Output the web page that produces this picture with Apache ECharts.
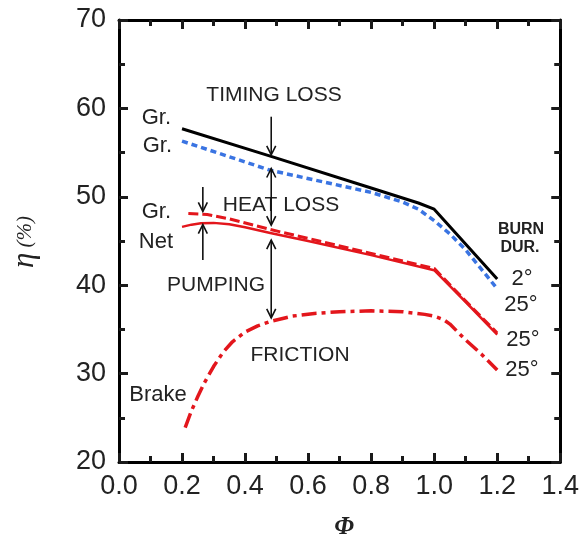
<!DOCTYPE html>
<html><head><meta charset="utf-8">
<script src="https://cdn.jsdelivr.net/npm/echarts/dist/echarts.min.js"></script>
<style>html,body{margin:0;padding:0;background:#fff}#c{width:582px;height:542px}</style>
</head><body><div id="c"></div>
<script>
// ---- data ----
const xTicks = [0.0, 0.2, 0.4, 0.6, 0.8, 1.0, 1.2, 1.4];
const yTicks = [20, 30, 40, 50, 60, 70];

// Gross, burn duration 2 deg (black solid)
const phiGr2 = [0.20, 0.48, 0.80, 0.95, 1.00, 1.20];
const etaGr2 = [57.7, 54.6, 51.0, 49.3, 48.6, 40.7];

// Gross, burn duration 25 deg (blue dashed)
const phiGr25 = [0.20, 0.48, 0.80, 0.90, 0.95, 1.00, 1.05, 1.10, 1.20];
const etaGr25 = [56.3, 53.0, 50.5, 49.4, 48.6, 47.3, 45.8, 44.0, 39.6];

// Gross incl. heat loss, 25 deg (red dashed)
const phiGrHL = [0.22, 0.28, 0.35, 0.48, 0.60, 0.80, 1.00, 1.10, 1.20];
const etaGrHL = [48.1, 48.0, 47.5, 46.3, 45.3, 43.6, 41.9, 38.2, 34.6];

// Net, 25 deg (red solid)
const phiNet = [0.20, 0.23, 0.26, 0.30, 0.35, 0.40, 0.48, 0.60, 0.80, 1.00, 1.10, 1.20];
const etaNet = [46.6, 46.85, 47.0, 47.05, 46.9, 46.55, 45.9, 45.0, 43.4, 41.7, 38.1, 34.4];

// Brake, 25 deg (red dash-dot)
const phiBrake = [0.21, 0.23, 0.25, 0.27, 0.30, 0.33, 0.36, 0.40, 0.44, 0.48, 0.55, 0.62, 0.70, 0.80, 0.90, 0.97, 1.00, 1.03, 1.05, 1.10, 1.15, 1.20];
const etaBrake = [23.9, 25.8, 27.4, 28.9, 30.8, 32.4, 33.6, 34.7, 35.4, 35.9, 36.5, 36.8, 37.0, 37.1, 37.0, 36.7, 36.5, 36.1, 35.6, 33.8, 32.2, 30.4];

// ---- chart ----
const RED = '#e3161c', BLUE = '#3a74e2';
const chart = echarts.init(document.getElementById('c'), null, {renderer: 'canvas'});
const pair = (xs, ys) => xs.map((x, i) => [x, ys[i]]);
function line(name, xs, ys, color, width, type, z) {
  return {type: 'line', name, data: pair(xs, ys), symbol: 'none', showSymbol: false,
    smooth: false, z: z, animation: false,
    lineStyle: {color, width, type: type || 'solid', cap: 'butt', join: 'round'}};
}
const SANS = '"Liberation Sans", Arial, sans-serif';
function axis(kind, pos, showLabel) {
  const isX = kind === 'x';
  const ticks = isX ? xTicks : yTicks;
  const a = {
    type: 'value', position: pos,
    min: ticks[0], max: ticks[ticks.length - 1], interval: ticks[1] - ticks[0],
    axisLine: {show: true, onZero: false, lineStyle: {color: '#000', width: 3}},
    axisTick: {show: true, inside: true, length: 9, lineStyle: {color: '#1a1a1a', width: 3}},
    minorTick: {show: true, splitNumber: 2, length: 6, lineStyle: {color: '#1a1a1a', width: 3}},
    splitLine: {show: false},
    axisLabel: {show: showLabel, color: '#222', fontSize: 27, fontFamily: SANS,
      margin: isX ? 11 : 13}
  };
  if (isX) a.axisLabel.formatter = v => v.toFixed(1);
  return a;
}

chart.setOption({
  animation: false,
  grid: {left: 119, right: 20, top: 20, bottom: 80},
  xAxis: [axis('x', 'bottom', true), axis('x', 'top', false)],
  yAxis: [axis('y', 'left', true), axis('y', 'right', false)],
  series: [
    line('Brake', phiBrake, etaBrake, RED, 3.5, [15, 5, 4, 5], 3),
    line('Net', phiNet, etaNet, RED, 2.5, 'solid', 4),
    line('Gr. heat', phiGrHL, etaGrHL, RED, 3, [10, 4], 5),
    line('Gr. 25', phiGr25, etaGr25, BLUE, 3.5, [6, 4], 6),
    line('Gr. 2', phiGr2, etaGr2, '#000', 3, 'solid', 7)
  ]
});

// ---- annotations ----
const txtColor = '#222';
const px = (x, y) => chart.convertToPixel({xAxisIndex: 0, yAxisIndex: 0}, [x, y]);
const g = [];
function text(t, x, y, size, align, weight) {
  return {type: 'text', x, y, z: 100, silent: true,
    style: {text: t, fill: txtColor, align: align || 'center', verticalAlign: 'middle',
      font: (weight || 'normal') + ' ' + size + 'px ' + SANS}};
}
function arrow(x, y0, y1, both) {
  const a = px(x, y0), b = px(x, y1);
  const out = [];
  const st = () => ({stroke: '#111', lineWidth: 1.6, fill: null});
  out.push({type: 'line', z: 100, silent: true, shape: {x1: a[0], y1: a[1], x2: b[0], y2: b[1]}, style: st()});
  const head = (p, dir) => ({type: 'polyline', z: 100, silent: true,
    shape: {points: [[p[0] - 4.5, p[1] - dir * 9], [p[0], p[1]], [p[0] + 4.5, p[1] - dir * 9]]}, style: st()});
  const dir = b[1] > a[1] ? 1 : -1;
  out.push(head(b, dir));
  if (both) out.push(head(a, -dir));
  return out;
}
g.push(text('TIMING LOSS', 274, 95, 21));
g.push(text('HEAT LOSS', 281, 205, 21));
g.push(text('PUMPING', 216, 285, 21));
g.push(text('FRICTION', 300, 355, 21));
g.push(text('Gr.', 171, 118, 22, 'right'));
g.push(text('Gr.', 172, 146, 22, 'right'));
g.push(text('Gr.', 171, 212, 22, 'right'));
g.push(text('Net', 173, 242, 22, 'right'));
g.push(text('Brake', 158, 395, 22));
g.push(text('BURN', 521, 230, 16, 'center', 'bold'));
g.push(text('DUR.', 520, 248, 16, 'center', 'bold'));
g.push(text('2°', 522, 279, 22));
g.push(text('25°', 521, 305, 22));
g.push(text('25°', 523, 340, 22));
g.push(text('25°', 522, 370, 22));
g.push(...arrow(0.483, 59.06, 54.75, false));
g.push(...arrow(0.483, 46.8, 53.2, true));
g.push(...arrow(0.266, 51.1, 48.35, false));
g.push(...arrow(0.266, 42.85, 46.85, false));
g.push(...arrow(0.483, 45.1, 36.3, true));
// axis titles
g.push({type: 'text', x: 344, y: 528, z: 100, silent: true,
  style: {text: 'Φ', fill: txtColor, align: 'center', verticalAlign: 'middle',
    font: 'italic bold 25px "Liberation Serif", "Times New Roman", serif'}});
g.push({type: 'text', x: 25, y: 242, rotation: Math.PI / 2, z: 100, silent: true,
  style: {text: '{a|η}{b| (%)}', fill: txtColor, align: 'center', verticalAlign: 'middle',
    rich: {a: {fontSize: 31, fontStyle: 'italic', fontFamily: '"Liberation Serif", serif', fill: txtColor},
           b: {fontSize: 21, fontStyle: 'italic', fontFamily: '"Liberation Serif", serif', fill: txtColor}}}});
chart.setOption({graphic: g});
</script>
</body></html>
